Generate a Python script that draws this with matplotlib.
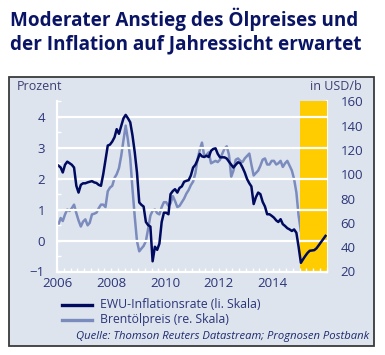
import matplotlib
matplotlib.use("Agg")
import matplotlib.pyplot as plt
import matplotlib.dates as mdates
from matplotlib.patches import Rectangle
from matplotlib.lines import Line2D
import pandas as pd
import numpy as np

# ---------------- data ----------------
start_month = "2006-01-01"
n_months = 120
forecast_start = "2015-01-01"
forecast_end = "2016-01-01"

inflation = [
    2.42, 2.36, 2.20, 2.45, 2.55, 2.50, 2.45, 2.36, 1.77, 1.55, 1.80, 1.85,   # 2006
    1.85, 1.88, 1.90, 1.92, 1.88, 1.86, 1.80, 1.77, 2.15, 2.60, 3.07, 3.10,   # 2007
    3.20, 3.34, 3.60, 3.45, 3.70, 3.95, 4.06, 3.95, 3.82, 3.40, 2.85, 2.20,   # 2008
    1.23, 1.15, 1.10, 0.60, 0.50, 0.45, -0.67, -0.20, -0.30, -0.10, 0.60, 0.90,  # 2009
    0.90, 0.85, 1.50, 1.60, 1.66, 1.55, 1.70, 1.75, 1.90, 1.93, 1.95, 2.10,   # 2010
    2.36, 2.45, 2.60, 2.80, 2.72, 2.70, 2.74, 2.70, 2.90, 2.96, 2.98, 2.80,   # 2011
    2.69, 2.69, 2.69, 2.65, 2.55, 2.45, 2.36, 2.45, 2.53, 2.50, 2.36, 2.20,   # 2012
    1.99, 1.85, 1.75, 1.18, 1.40, 1.55, 1.50, 1.25, 1.10, 0.85, 0.85, 0.80,   # 2013
    0.74, 0.65, 0.60, 0.69, 0.53, 0.47, 0.40, 0.36, 0.31, 0.36, 0.25, -0.20,  # 2014
    -0.72, -0.60, -0.50, -0.40, -0.33, -0.32, -0.31, -0.25, -0.15, -0.05, 0.05, 0.15,  # 2015
]

brent = [
    58.7, 64.0, 61.5, 67.0, 71.0, 69.8, 72.0, 75.0, 68.0, 62.0, 57.0, 61.0,   # 2006
    62.9, 58.0, 60.0, 67.0, 67.5, 68.4, 72.0, 75.0, 75.0, 73.0, 86.0, 89.0,   # 2007
    90.5, 97.0, 100.0, 105.0, 115.0, 128.0, 140.0, 128.0, 113.0, 88.0, 65.0, 45.0,  # 2008
    36.6, 39.0, 41.0, 45.0, 55.0, 66.0, 70.0, 71.0, 68.0, 67.0, 73.0, 77.0,   # 2009
    77.0, 74.0, 76.0, 82.0, 78.0, 73.0, 74.0, 77.0, 80.0, 84.0, 87.0, 91.0,   # 2010
    94.0, 101.0, 112.0, 120.0, 126.0, 115.0, 116.0, 118.0, 109.0, 110.0, 111.0, 110.0,  # 2011
    112.0, 117.0, 121.0, 123.0, 116.0, 98.0, 103.0, 112.0, 113.0, 111.0, 110.0, 113.0,  # 2012
    115.0, 117.0, 108.0, 99.0, 101.0, 103.0, 107.0, 112.0, 113.0, 108.0, 108.0, 111.0,  # 2013
    111.0, 108.0, 109.0, 111.0, 106.0, 109.0, 111.0, 107.0, 103.0, 96.0, 85.0, 66.0,   # 2014
    53.0, 55.0, 56.0, 56.5, 57.0, 57.3, 58.0, 58.7, 59.5, 60.5, 61.5, 62.3,   # 2015
]

year_ticks = [2006, 2008, 2010, 2012, 2014]
left_ticks = [-1, 0, 1, 2, 3, 4]
right_ticks = [20, 40, 60, 80, 100, 120, 140, 160]

title_lines = ["Moderater Anstieg des Ölpreises und",
               "der Inflation auf Jahressicht erwartet"]
label_left = "Prozent"
label_right = "in USD/b"
legend_labels = ["EWU-Inflationsrate (li. Skala)", "Brentölpreis (re. Skala)"]
source_text = "Quelle: Thomson Reuters Datastream; Prognosen Postbank"

# ---------------- style ----------------
W, H = 385, 355
FONT = ["Open Sans", "DejaVu Sans"]
plt.rcParams["font.family"] = FONT
NAVY = "#000a5e"
LIGHT = "#7b8bbd"
PANEL = "#dde4ee"
YELLOW = "#ffcc00"
TXT = "#2a3578"
TITLE_C = "#0a1464"

def fx(px):
    return px / W

def fy(py):
    return 1 - py / H

fig = plt.figure(figsize=(W / 100, H / 100), dpi=100)
fig.patch.set_facecolor("white")

panel = Rectangle((fx(9), fy(346)), fx(374) - fx(9), fy(77) - fy(346),
                  transform=fig.transFigure, facecolor=PANEL,
                  edgecolor="#3a3a3a", linewidth=1.3, zorder=0)
fig.add_artist(panel)

left_px, right_px, top_px, bot_px = 57.3, 326.7, 101.3, 271.5
ax = fig.add_axes([fx(left_px), fy(bot_px), fx(right_px) - fx(left_px), fy(top_px) - fy(bot_px)])
ax2 = ax.twinx()
for a in (ax, ax2):
    a.patch.set_alpha(0)

dates = pd.date_range(start_month, periods=n_months, freq="MS") + pd.Timedelta(days=15)

ax.axvspan(pd.Timestamp(forecast_start), pd.Timestamp(forecast_end), color=YELLOW, zorder=1, lw=0)

for t in [v for v in left_ticks if v > left_ticks[0]]:
    ax.axhline(t, color="white", lw=1.6, zorder=2)

ax2.plot(dates, brent, color=LIGHT, lw=1.8, zorder=3, solid_joinstyle="round")
ax.set_zorder(ax2.get_zorder() + 1)
ax.plot(dates, inflation, color=NAVY, lw=1.8, zorder=4, solid_joinstyle="round")

ax.set_xlim(pd.Timestamp("2006-01-01"), pd.Timestamp(forecast_end))
ax.set_ylim(-1, 4.5)
ax2.set_ylim(20, 160)

ax.set_yticks(left_ticks)
ax.set_yticks(np.arange(-1, 4.51, 0.5), minor=True)
ax2.set_yticks(right_ticks)
ax2.set_yticks(np.arange(20, 161, 10), minor=True)
ax.set_xticks([pd.Timestamp(f"{y}-01-01") for y in year_ticks])
ax.xaxis.set_major_formatter(mdates.DateFormatter("%Y"))
ax.xaxis.set_minor_locator(mdates.MonthLocator(bymonth=[1, 4, 7, 10]))

for a in (ax, ax2):
    for s in a.spines.values():
        s.set_visible(False)
ax.spines["left"].set_visible(True)
ax.spines["bottom"].set_visible(True)
ax2.spines["right"].set_visible(True)
for s in (ax.spines["left"], ax.spines["bottom"], ax2.spines["right"]):
    s.set_color("white")
    s.set_linewidth(1.6)
ax.spines["left"].set_zorder(5)

ax.tick_params(axis="y", which="both", direction="in", length=3, width=1, color="white",
               labelsize=9.5, labelcolor=TXT, pad=9)
ax.tick_params(axis="x", which="both", direction="in", length=3, width=1, color="white",
               labelsize=9.5, labelcolor=TXT, pad=4)
ax2.tick_params(axis="y", which="both", direction="in", length=3, width=1, color="white",
                labelsize=9.5, labelcolor=TXT, pad=10)
ax2.tick_params(axis="x", which="both", bottom=False, top=False)

# axis unit labels
fig.text(fx(17), fy(87), label_left, ha="left", va="center", fontsize=9, color="#3c3f70")
fig.text(fx(362), fy(87), label_right, ha="right", va="center", fontsize=9, color="#3c3f70")

# title
t1 = fig.text(fx(10), fy(26), title_lines[0], ha="left", va="baseline",
              fontsize=13, fontweight="bold", color=TITLE_C)
t2 = fig.text(fx(10), fy(49), title_lines[1], ha="left", va="baseline",
              fontsize=13, fontweight="bold", color=TITLE_C)

# legend
leg_y = [305, 320]
leg_colors = [NAVY, LIGHT]
leg_texts = []
for yy, c, lab in zip(leg_y, leg_colors, legend_labels):
    fig.add_artist(Line2D([fx(62), fx(92)], [fy(yy), fy(yy)], color=c, lw=2.4,
                          transform=fig.transFigure))
    leg_texts.append(fig.text(fx(100), fy(yy), lab, ha="left", va="center",
                              fontsize=9, color=TXT))

src = fig.text(fx(369), fy(337), source_text, ha="right", va="center",
               fontsize=7.5, style="italic", color="#1e2a6e")

# fit text widths to the reference
fig.canvas.draw()
r = fig.canvas.get_renderer()
def fit(t, target):
    w = t.get_window_extent(r).width
    t.set_fontsize(t.get_fontsize() * target / w)

fit(t1, 344)
t2.set_fontsize(t1.get_fontsize())
fit(leg_texts[0], 161)
leg_texts[1].set_fontsize(leg_texts[0].get_fontsize())
fit(src, 293)

fig.savefig("out.png", dpi=100)
